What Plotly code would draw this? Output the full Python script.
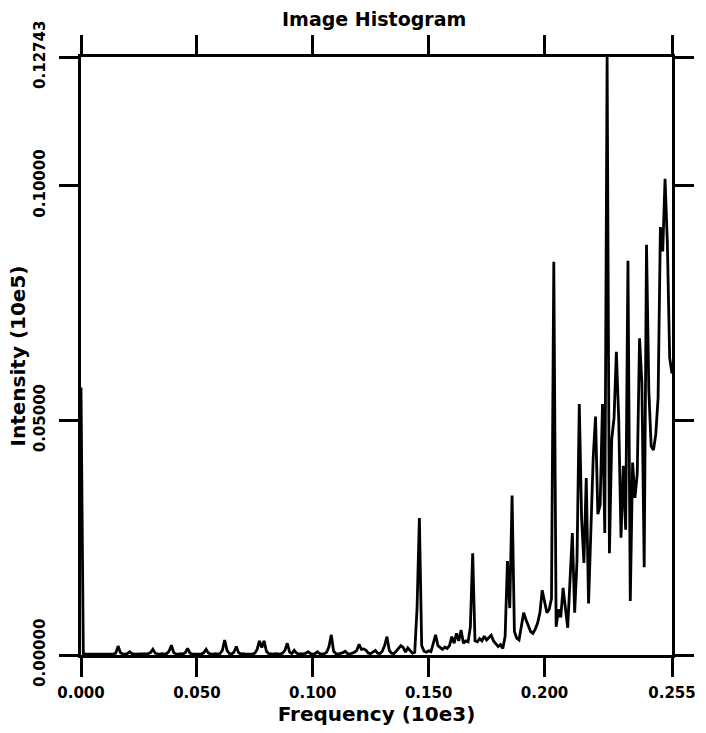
import plotly.graph_objects as go

# Histogram bins (pixel value 0..255 shown in units of 10e3)
bin_index = list(range(256))
frequency = [b / 1000 for b in bin_index]

# Intensity (units of 10e5), 16 bins per row
intensity = [
    0.057, 0.0003, 0.0002, 0.0002, 0.0003, 0.0002, 0.0002, 0.0003, 0.0002, 0.0002, 0.0003, 0.0002, 0.0002, 0.0003, 0.0002, 0.0004,
    0.0019, 0.0005, 0.0002, 0.0002, 0.0003, 0.0007, 0.0003, 0.0002, 0.0002, 0.0002, 0.0003, 0.0002, 0.0002, 0.0003, 0.0005, 0.0012,
    0.0004, 0.0002, 0.0002, 0.0003, 0.0002, 0.0003, 0.0008, 0.0021, 0.0005, 0.0002, 0.0002, 0.0003, 0.0002, 0.0005, 0.0014, 0.0004,
    0.0002, 0.0002, 0.0003, 0.0002, 0.0002, 0.0005, 0.0012, 0.0004, 0.0002, 0.0002, 0.0003, 0.0002, 0.0003, 0.0010, 0.0032, 0.0010,
    0.0003, 0.0002, 0.0006, 0.0018, 0.0005, 0.0002, 0.0003, 0.0002, 0.0002, 0.0003, 0.0002, 0.0004, 0.0012, 0.0030, 0.0016, 0.0030,
    0.0008, 0.0003, 0.0002, 0.0002, 0.0003, 0.0002, 0.0002, 0.0004, 0.0010, 0.0025, 0.0006, 0.0003, 0.0010, 0.0004, 0.0002, 0.0003,
    0.0002, 0.0004, 0.0007, 0.0003, 0.0002, 0.0003, 0.0007, 0.0003, 0.0002, 0.0003, 0.0006, 0.0018, 0.0043, 0.0008, 0.0003, 0.0002,
    0.0003, 0.0005, 0.0008, 0.0003, 0.0002, 0.0004, 0.0006, 0.0010, 0.0023, 0.0012, 0.0013, 0.0010, 0.0004, 0.0003, 0.0006, 0.0010,
    0.0004, 0.0003, 0.0008, 0.0020, 0.0039, 0.0010, 0.0004, 0.0003, 0.0008, 0.0015, 0.0020, 0.0016, 0.0006, 0.0015, 0.0010, 0.0004,
    0.0006, 0.0100, 0.0292, 0.0020, 0.0008, 0.0006, 0.0009, 0.0007, 0.0025, 0.0043, 0.0020, 0.0015, 0.0012, 0.0017, 0.0014, 0.0020,
    0.0039, 0.0025, 0.0046, 0.0030, 0.0053, 0.0025, 0.0030, 0.0028, 0.0060, 0.0217, 0.0030, 0.0028, 0.0035, 0.0030, 0.0040, 0.0032,
    0.0038, 0.0042, 0.0030, 0.0025, 0.0018, 0.0022, 0.0014, 0.0040, 0.0200, 0.0100, 0.0340, 0.0050, 0.0036, 0.0032, 0.0060, 0.0090,
    0.0075, 0.0060, 0.0050, 0.0046, 0.0055, 0.0068, 0.0090, 0.0138, 0.0110, 0.0090, 0.0097, 0.0120, 0.0838, 0.0060, 0.0097, 0.0080,
    0.0143, 0.0100, 0.0058, 0.0160, 0.0260, 0.0090, 0.0200, 0.0535, 0.0290, 0.0196, 0.0377, 0.0110, 0.0280, 0.0420, 0.0508, 0.0300,
    0.0320, 0.0535, 0.0260, 0.12743, 0.0217, 0.0460, 0.0505, 0.0646, 0.0505, 0.0250, 0.0403, 0.0267, 0.0840, 0.0115, 0.0410, 0.0335,
    0.0386, 0.0675, 0.0580, 0.0187, 0.0874, 0.0565, 0.0445, 0.0437, 0.0470, 0.0548, 0.0912, 0.0860, 0.1015, 0.0878, 0.0633, 0.0600,
]

x_tickvals = [0.0, 0.05, 0.10, 0.15, 0.20, 0.255]
x_ticktext = ["0.000", "0.050", "0.100", "0.150", "0.200", "0.255"]
y_tickvals = [0.0, 0.05, 0.10, 0.12743]
y_ticktext = ["0.00000", "0.05000", "0.10000", "0.12743"]

FONT = "DejaVu Sans"

fig = go.Figure()
fig.add_trace(go.Scatter(
    x=frequency, y=intensity, mode="lines",
    line=dict(color="black", width=2.8),
    showlegend=False, hoverinfo="x+y",
))

axis_common = dict(
    showline=True, linecolor="black", linewidth=3,
    mirror="ticks", ticks="outside", ticklen=19, tickwidth=2.5, tickcolor="black",
    showgrid=False, zeroline=False,
    tickfont=dict(family=FONT, size=15, color="black", weight="bold"),
)

fig.update_layout(
    width=706, height=733,
    margin=dict(l=81, r=34, t=57, b=78, autoexpand=False),
    paper_bgcolor="white", plot_bgcolor="white",
    title=dict(
        text="Image Histogram", x=0.53, xanchor="center",
        y=1 - 19 / 733, yanchor="middle",
        font=dict(family=FONT, size=19, color="black", weight="bold"),
    ),
    xaxis=dict(
        range=[0, 0.255], tickvals=x_tickvals, ticktext=x_ticktext,
        ticklabelstandoff=3,
        title=dict(text="Frequency (10e3)", standoff=6,
                   font=dict(family=FONT, size=20, color="black", weight="bold")),
        **axis_common,
    ),
    yaxis=dict(
        range=[0, 0.12743], tickvals=y_tickvals, ticktext=y_ticktext,
        tickangle=-90, ticklabelstandoff=8,
        title=dict(text="Intensity (10e5)", standoff=1,
                   font=dict(family=FONT, size=20, color="black", weight="bold")),
        **axis_common,
    ),
)

fig.write_html("out.html")
